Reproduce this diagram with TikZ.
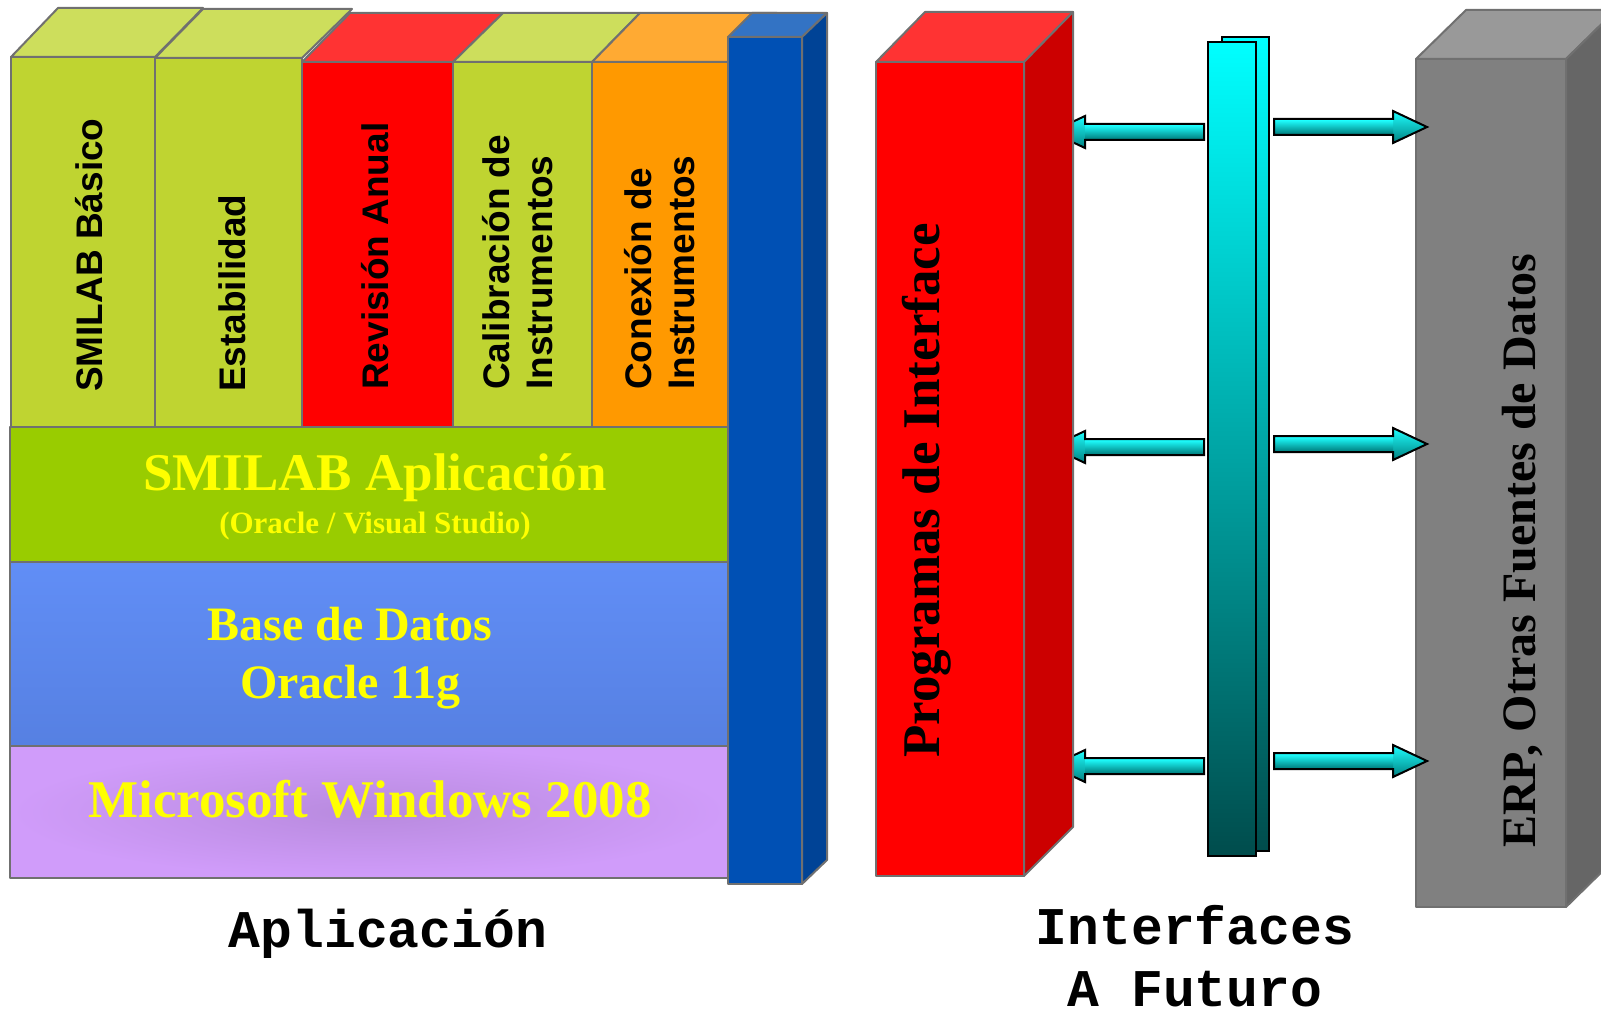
\documentclass[tikz,border=0pt]{standalone}
\usepackage{fontspec}
\setmainfont{Liberation Serif}
\newfontfamily\arialfont{Liberation Sans}
\newfontfamily\courfont{Liberation Mono}
\usetikzlibrary{shadings}
\definecolor{edge}{RGB}{112,112,112}
\definecolor{grnF}{RGB}{191,212,49}
\definecolor{grnT}{RGB}{205,222,92}
\definecolor{redF}{RGB}{255,0,0}
\definecolor{redT}{RGB}{255,51,51}
\definecolor{redS}{RGB}{204,0,0}
\definecolor{orgF}{RGB}{255,153,0}
\definecolor{orgT}{RGB}{255,170,51}
\definecolor{bluF}{RGB}{0,80,180}
\definecolor{bluT}{RGB}{51,115,196}
\definecolor{bluS}{RGB}{0,67,150}
\definecolor{appG}{RGB}{153,204,0}
\definecolor{dbA}{RGB}{97,142,246}
\definecolor{dbB}{RGB}{86,128,226}
\definecolor{winIn}{RGB}{184,138,222}
\definecolor{winOut}{RGB}{208,156,250}
\definecolor{gryF}{RGB}{128,128,128}
\definecolor{gryT}{RGB}{153,153,153}
\definecolor{gryS}{RGB}{102,102,102}
\definecolor{txtY}{RGB}{255,255,0}
\definecolor{barTop}{RGB}{0,255,255}
\definecolor{barMid}{RGB}{0,204,204}
\definecolor{barBot}{RGB}{0,76,76}
\definecolor{arrTop}{RGB}{30,255,255}
\definecolor{arrBot}{RGB}{0,128,128}
\newcommand\blockarr[4]{%
  \shade[top color=arrTop, bottom color=arrBot] (#1,#4-8) -- (#2,#4-8) -- (#2,#4-16) -- (#3,#4) -- (#2,#4+16) -- (#2,#4+8) -- (#1,#4+8) -- cycle;
  \shade[top color=arrTop, bottom color=arrBot] (#1,#4-7) rectangle (#2,#4+7);
  \draw[arrline] (#1,#4-8) -- (#2,#4-8) -- (#2,#4-16) -- (#3,#4) -- (#2,#4+16) -- (#2,#4+8) -- (#1,#4+8) -- cycle;
}
\begin{document}
\begin{tikzpicture}[x=1pt,y=-1pt,
  face/.style={draw=edge,line width=2pt,line join=round},
  arrline/.style={draw=black,line width=2pt,line join=miter},
  barbox/.style={draw=black,line width=2pt,top color=barTop,middle color=barMid,bottom color=barBot},
  collabel/.style={rotate=90,inner sep=0pt,align=left,font=\arialfont\bfseries\fontsize{37}{43}\selectfont},
  bandtxt/.style={inner sep=0pt,anchor=base,text=txtY,font=\bfseries\fontsize{#1}{#1}\selectfont},
  bottomlbl/.style={inner sep=0pt,align=center,font=\courfont\bfseries\fontsize{53}{62}\selectfont}]
\useasboundingbox (0,0) rectangle (1601,1016);
\clip (0,0) rectangle (1601,1016);
% ---------- application columns ----------
\fill[grnT,face] (11,57) -- (58,8) -- (203,8) -- (155,57) -- cycle;
\fill[grnF,face] (11,57) rectangle (155,427);
\fill[grnT,face] (155,58) -- (203,9) -- (352,9) -- (302,58) -- cycle;
\fill[grnF,face] (155,58) rectangle (302,427);
\fill[redT,face] (302,62) -- (350,13) -- (503,13) -- (453,62) -- cycle;
\fill[redF,face] (302,62) rectangle (453,427);
\fill[grnT,face] (453,62) -- (503,13) -- (640,13) -- (592,62) -- cycle;
\fill[grnF,face] (453,62) rectangle (592,427);
\fill[orgT,face] (592,62) -- (640,13) -- (777,13) -- (728,62) -- cycle;
\fill[orgF,face] (592,62) rectangle (728,427);
% ---------- bands ----------
\fill[appG,face] (10,427) rectangle (728,562);
\shadedraw[face,top color=dbA,bottom color=dbB] (10,562) rectangle (728,746);
\shadedraw[face,inner color=winIn,outer color=winOut] (10,746) rectangle (728,878);
% ---------- blue strip ----------
\fill[bluT,face] (728,37) -- (752,13) -- (827,13) -- (802,37) -- cycle;
\fill[bluS,face] (802,37) -- (827,13) -- (827,860) -- (802,884) -- cycle;
\fill[bluF,face] (728,37) rectangle (802,884);
% ---------- left arrows (behind the red box) ----------
\blockarr{1204}{1085}{1051}{132}
\blockarr{1204}{1085}{1051}{447}
\blockarr{1204}{1085}{1051}{766}
% ---------- red interface box ----------
\fill[redT,face] (876,62) -- (925,12) -- (1073,12) -- (1024,62) -- cycle;
\fill[redS,face] (1024,62) -- (1073,12) -- (1073,827) -- (1024,876) -- cycle;
\fill[redF,face] (876,62) rectangle (1024,876);
% ---------- cyan bars ----------
\shadedraw[barbox] (1222,37) rectangle (1269,851);
\shadedraw[barbox] (1208,42) rectangle (1256,856);
% ---------- gray box ----------
\fill[gryT,face] (1416,59) -- (1466,10) -- (1616,10) -- (1566,59) -- cycle;
\fill[gryS,face] (1566,59) -- (1616,10) -- (1616,858) -- (1566,907) -- cycle;
\fill[gryF,face] (1416,59) rectangle (1566,907);
% ---------- right arrows ----------
\blockarr{1274}{1393}{1427}{127}
\blockarr{1274}{1393}{1427}{444}
\blockarr{1274}{1393}{1427}{761}
% ---------- texts ----------
\node[collabel,anchor=base west] (tBasico) at (102,392) {SMILAB Básico};
\node[collabel,anchor=base west] (tEstab) at (245,392) {Estabilidad};
\node[collabel,anchor=base west] (tRev) at (388,390) {Revisión Anual};
\node[collabel,anchor=south west] (tCal) at (553,390) {Calibración de\\Instrumentos};
\node[collabel,anchor=south west] (tCon) at (695,390) {Conexión de\\Instrumentos};
\node[bandtxt=53] (tApp) at (375,490) {SMILAB Aplicación};
\node[bandtxt=31] (tAppSub) at (375,533) {(Oracle / Visual Studio)};
\node[bandtxt=48] (tDb1) at (350,640) {Base de Datos};
\node[bandtxt=48] (tDb2) at (350,698) {Oracle 11g};
\node[bandtxt=53] (tWin) at (370,817) {Microsoft Windows 2008};
\node[rotate=90,anchor=base west,inner sep=0pt,font=\bfseries\fontsize{53}{53}\selectfont] (tProg) at (939,758) {Programas de Interface};
\node[rotate=90,anchor=base west,inner sep=0pt,font=\bfseries\fontsize{48}{48}\selectfont] (tErp) at (1535,848) {ERP, Otras Fuentes de Datos};
\node[bottomlbl,anchor=base] (lApp) at (388,947) {Aplicación};
\node[bottomlbl,anchor=south] (lInt) at (1195,1007) {Interfaces\\A Futuro};
\end{tikzpicture}
\end{document}
